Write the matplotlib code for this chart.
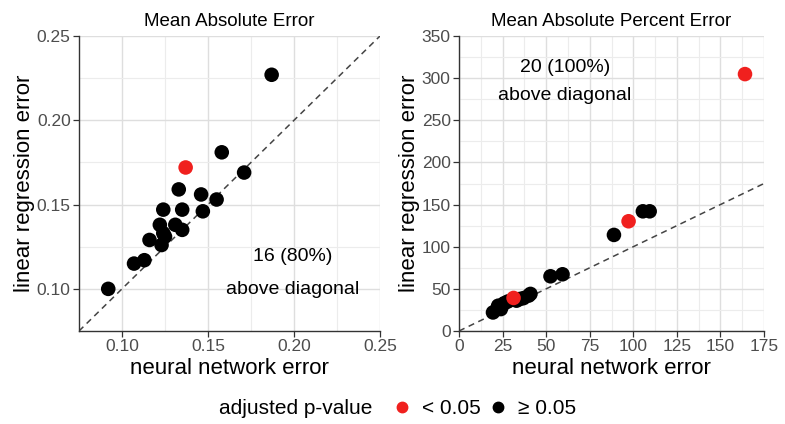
import numpy as np
import matplotlib
matplotlib.use("Agg")
import matplotlib.pyplot as plt
from matplotlib.lines import Line2D

plt.rcParams['font.family'] = ['Liberation Sans', 'DejaVu Sans']

# Mean Absolute Error (neural network vs linear regression)
mae_nn = [0.092, 0.107, 0.113, 0.116, 0.122, 0.124, 0.123, 0.124, 0.125, 0.131,
          0.135, 0.135, 0.133, 0.146, 0.147, 0.155, 0.158, 0.171, 0.187, 0.137]
mae_lr = [0.100, 0.115, 0.117, 0.129, 0.138, 0.147, 0.126, 0.133, 0.131, 0.138,
          0.135, 0.147, 0.159, 0.156, 0.146, 0.153, 0.181, 0.169, 0.227, 0.172]
mae_sig = [0] * 19 + [1]

# Mean Absolute Percent Error
mape_nn = [19.5, 22, 22.5, 24, 25, 26, 28, 33, 35, 37, 40, 41,
           52.5, 59.4, 88.9, 105.5, 109.4, 31.3, 97.3, 164.1]
mape_lr = [22, 27, 30, 26, 31, 33, 35, 36, 38, 39, 42, 44,
           64.9, 67.3, 114, 142, 142, 39.2, 130.2, 304.8]
mape_sig = [0] * 17 + [1, 1, 1]

red = '#f0201e'
black = '#000000'

fig = plt.figure(figsize=(7.85, 4.24), dpi=100)
ax1 = fig.add_axes([79 / 785, 1 - 331 / 424, 301 / 785, 295 / 424])
ax2 = fig.add_axes([459 / 785, 1 - 331 / 424, 305 / 785, 295 / 424])


def style_axis(ax, xmaj, xmin, ymaj, ymin, lim_x, lim_y):
    ax.set_xlim(*lim_x)
    ax.set_ylim(*lim_y)
    ax.set_xticks(xmaj)
    ax.set_yticks(ymaj)
    ax.set_xticks(xmin, minor=True)
    ax.set_yticks(ymin, minor=True)
    ax.grid(which='major', color='#dedede', linewidth=1.0)
    ax.grid(which='minor', color='#ececec', linewidth=0.8)
    ax.set_axisbelow(True)
    for s in ['top', 'right']:
        ax.spines[s].set_visible(False)
    for s in ['left', 'bottom']:
        ax.spines[s].set_color('#333333')
        ax.spines[s].set_linewidth(1.0)
    ax.tick_params(which='major', length=4.5, width=0.9, color='#333333',
                   labelcolor='#4d4d4d', labelsize=12.5, pad=1.5)
    ax.tick_params(which='minor', length=0)
    ax.set_xlabel('neural network error', fontsize=16, labelpad=3)
    ax.set_ylabel('linear regression error', fontsize=16, labelpad=1)


# left panel
style_axis(ax1, [0.10, 0.15, 0.20, 0.25], [0.125, 0.175, 0.225],
           [0.10, 0.15, 0.20, 0.25], [0.125, 0.175, 0.225],
           (0.075, 0.25), (0.075, 0.25))
ax1.xaxis.set_major_formatter(matplotlib.ticker.FormatStrFormatter('%.2f'))
ax1.yaxis.set_major_formatter(matplotlib.ticker.FormatStrFormatter('%.2f'))
ax1.plot([0.075, 0.25], [0.075, 0.25], linestyle=(0, (4, 3)), color='#444444',
         linewidth=1.1, zorder=2)
cols1 = [red if s else black for s in mae_sig]
ax1.scatter(mae_nn, mae_lr, s=110, c=cols1, edgecolors='none', zorder=3,
            clip_on=False)
ax1.set_title('Mean Absolute Error', fontsize=13.5, pad=7)
ax1.text(0.1994, 0.119, '16 (80%)', ha='center', va='center', fontsize=14)
ax1.text(0.1994, 0.0996, 'above diagonal', ha='center', va='center', fontsize=14)

# right panel
style_axis(ax2, np.arange(0, 176, 25), np.arange(12.5, 176, 25),
           np.arange(0, 351, 50), np.arange(25, 351, 50),
           (0, 175), (0, 350))
ax2.plot([0, 175], [0, 175], linestyle=(0, (4, 3)), color='#444444',
         linewidth=1.1, zorder=2)
cols2 = [red if s else black for s in mape_sig]
ax2.scatter(mape_nn, mape_lr, s=110, c=cols2, edgecolors='none', zorder=3,
            clip_on=False)
ax2.set_title('Mean Absolute Percent Error', fontsize=13.5, pad=7)
ax2.text(60.7, 313, '20 (100%)', ha='center', va='center', fontsize=14)
ax2.text(60.7, 279, 'above diagonal', ha='center', va='center', fontsize=14)

# legend
fig.text(296 / 785, 1 - 409 / 424, 'adjusted p-value', ha='center', va='center',
         fontsize=15)
handles = [Line2D([], [], marker='o', linestyle='none', color=red, markersize=7.5),
           Line2D([], [], marker='o', linestyle='none', color=black, markersize=7.5)]
fig.legend(handles, ['< 0.05', '≥ 0.05'], loc='center',
           bbox_to_anchor=(484 / 785, 1 - 409 / 424), ncol=2, frameon=False,
           fontsize=15, handletextpad=0.45, columnspacing=0.35, handlelength=1.0)

fig.savefig('out.png', dpi=100)
